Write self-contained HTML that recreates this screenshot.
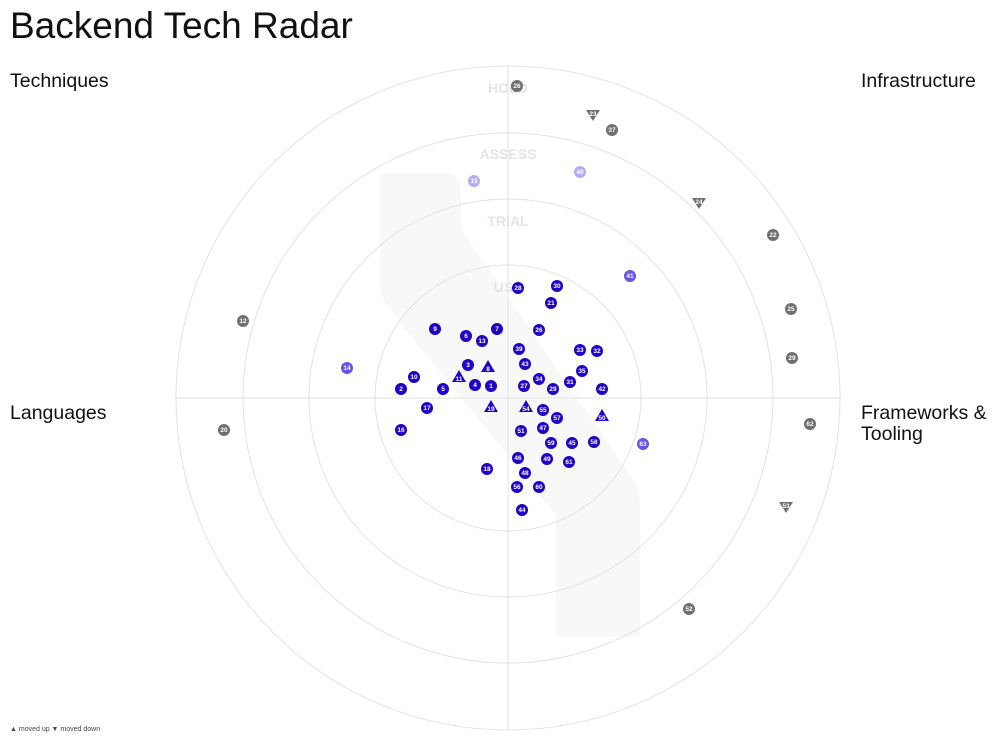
<!DOCTYPE html>
<html><head><meta charset="utf-8"><style>
body{margin:0;background:#fff;width:1000px;height:748px;overflow:hidden;font-family:"Liberation Sans",sans-serif;}
</style></head><body>
<svg width="1000" height="748" viewBox="0 0 1000 748" xmlns="http://www.w3.org/2000/svg" font-family="Liberation Sans, sans-serif">
<path d="M380,180 Q380,173 388,173 L448,173 Q456,173 460,182 L462,230 L632,478 Q640,490 640,505 L640,637 L556,637 L556,515 L390,310 Q380,298 380,285 Z" fill="#f8f8f8"/>
<g fill="none" stroke="#e2e2e2" stroke-width="1">
<circle cx="508" cy="398" r="332"/><circle cx="508" cy="398" r="265"/><circle cx="508" cy="398" r="199"/><circle cx="508" cy="398" r="133"/>
<line x1="176" y1="398" x2="840" y2="398"/><line x1="508" y1="66" x2="508" y2="730"/>
</g>
<g fill="#e4e4e4" font-size="14" font-weight="bold" text-anchor="middle">
<text x="508" y="93">HOLD</text><text x="508" y="159">ASSESS</text><text x="508" y="226">TRIAL</text><text x="508" y="292">USE</text>
</g>
<text x="10" y="38" font-size="37" fill="#111">Backend Tech Radar</text>
<g font-size="19.5" fill="#111"><text x="10" y="87">Techniques</text><text x="861" y="87">Infrastructure</text><text x="10" y="419">Languages</text><text x="861" y="419">Frameworks &amp;</text><text x="861" y="440">Tooling</text></g>
<text x="10" y="731" font-size="7" fill="#444">▲ moved up    ▼ moved down</text>
<g font-size="6.5" fill="#fff" text-anchor="middle" font-weight="bold">
<g fill="#2200c8">
<circle cx="518" cy="288" r="6"/><circle cx="557" cy="286" r="6"/><circle cx="551" cy="303" r="6"/><circle cx="435" cy="329" r="6"/><circle cx="497" cy="329" r="6"/><circle cx="466" cy="336" r="6"/><circle cx="482" cy="341" r="6"/><circle cx="539" cy="330" r="6"/><circle cx="519" cy="349" r="6"/><circle cx="580" cy="350" r="6"/><circle cx="597" cy="351" r="6"/><circle cx="468" cy="365" r="6"/><circle cx="525" cy="364" r="6"/><circle cx="582" cy="371" r="6"/><circle cx="414" cy="377" r="6"/><circle cx="539" cy="379" r="6"/><circle cx="570" cy="382" r="6"/><circle cx="401" cy="389" r="6"/><circle cx="443" cy="389" r="6"/><circle cx="475" cy="385" r="6"/><circle cx="491" cy="386" r="6"/><circle cx="524" cy="386" r="6"/><circle cx="553" cy="389" r="6"/><circle cx="602" cy="389" r="6"/><circle cx="427" cy="408" r="6"/><circle cx="543" cy="410" r="6"/><circle cx="557" cy="418" r="6"/><circle cx="401" cy="430" r="6"/><circle cx="521" cy="431" r="6"/><circle cx="543" cy="428" r="6"/><circle cx="551" cy="443" r="6"/><circle cx="572" cy="443" r="6"/><circle cx="594" cy="442" r="6"/><circle cx="518" cy="458" r="6"/><circle cx="547" cy="459" r="6"/><circle cx="569" cy="462" r="6"/><circle cx="487" cy="469" r="6"/><circle cx="525" cy="473" r="6"/><circle cx="517" cy="487" r="6"/><circle cx="539" cy="487" r="6"/><circle cx="522" cy="510" r="6"/>
<path d="M488,360 L495,372 L481,372Z M459,370 L466,382 L452,382Z M491,400 L498,412 L484,412Z M526,400 L533,412 L519,412Z M602,409 L609,421 L595,421Z"/>
</g>
<g fill="#6655e6"><circle cx="630" cy="276" r="6"/><circle cx="347" cy="368" r="6"/><circle cx="643" cy="444" r="6"/></g>
<g fill="#b3acf7"><circle cx="580" cy="172" r="6"/><circle cx="474" cy="181" r="6"/></g>
<g fill="#707070"><circle cx="517" cy="86" r="6"/><circle cx="612" cy="130" r="6"/><circle cx="773" cy="235" r="6"/><circle cx="791" cy="309" r="6"/><circle cx="792" cy="358" r="6"/><circle cx="810" cy="424" r="6"/><circle cx="689" cy="609" r="6"/><circle cx="243" cy="321" r="6"/><circle cx="224" cy="430" r="6"/>
<path d="M586,110 L600,110 L593,121Z M692,198 L706,198 L699,209Z M779,502 L793,502 L786,513Z"/></g>
<text x="518" y="290">28</text><text x="557" y="288">30</text><text x="551" y="305">21</text><text x="435" y="331">9</text><text x="497" y="331">7</text><text x="466" y="338">6</text><text x="482" y="343">13</text><text x="539" y="332">26</text><text x="519" y="351">39</text><text x="580" y="352">33</text><text x="597" y="353">32</text><text x="468" y="367">3</text><text x="525" y="366">43</text><text x="582" y="373">35</text><text x="414" y="379">10</text><text x="539" y="381">34</text><text x="570" y="384">31</text><text x="401" y="391">2</text><text x="443" y="391">5</text><text x="475" y="387">4</text><text x="491" y="388">1</text><text x="524" y="388">27</text><text x="553" y="391">29</text><text x="602" y="391">42</text><text x="427" y="410">17</text><text x="543" y="412">55</text><text x="557" y="420">57</text><text x="401" y="432">16</text><text x="521" y="433">51</text><text x="543" y="430">47</text><text x="551" y="445">59</text><text x="572" y="445">45</text><text x="594" y="444">58</text><text x="518" y="460">46</text><text x="547" y="461">49</text><text x="569" y="464">61</text><text x="487" y="471">18</text><text x="525" y="475">48</text><text x="517" y="489">56</text><text x="539" y="489">60</text><text x="522" y="512">44</text>
<text x="488" y="371">8</text><text x="459" y="381">11</text><text x="491" y="411">19</text><text x="526" y="411">54</text><text x="602" y="420">50</text>
<text x="630" y="278">41</text><text x="347" y="370">14</text><text x="643" y="446">63</text><text x="580" y="174">40</text><text x="474" y="183">15</text>
<text x="517" y="88">26</text><text x="612" y="132">37</text><text x="773" y="237">22</text><text x="791" y="311">25</text><text x="792" y="360">29</text><text x="810" y="426">62</text><text x="689" y="611">52</text><text x="243" y="323">12</text><text x="224" y="432">20</text>
<text x="593" y="116">23</text><text x="699" y="204">24</text><text x="786" y="508">53</text>
</g>
</svg>
</body></html>
